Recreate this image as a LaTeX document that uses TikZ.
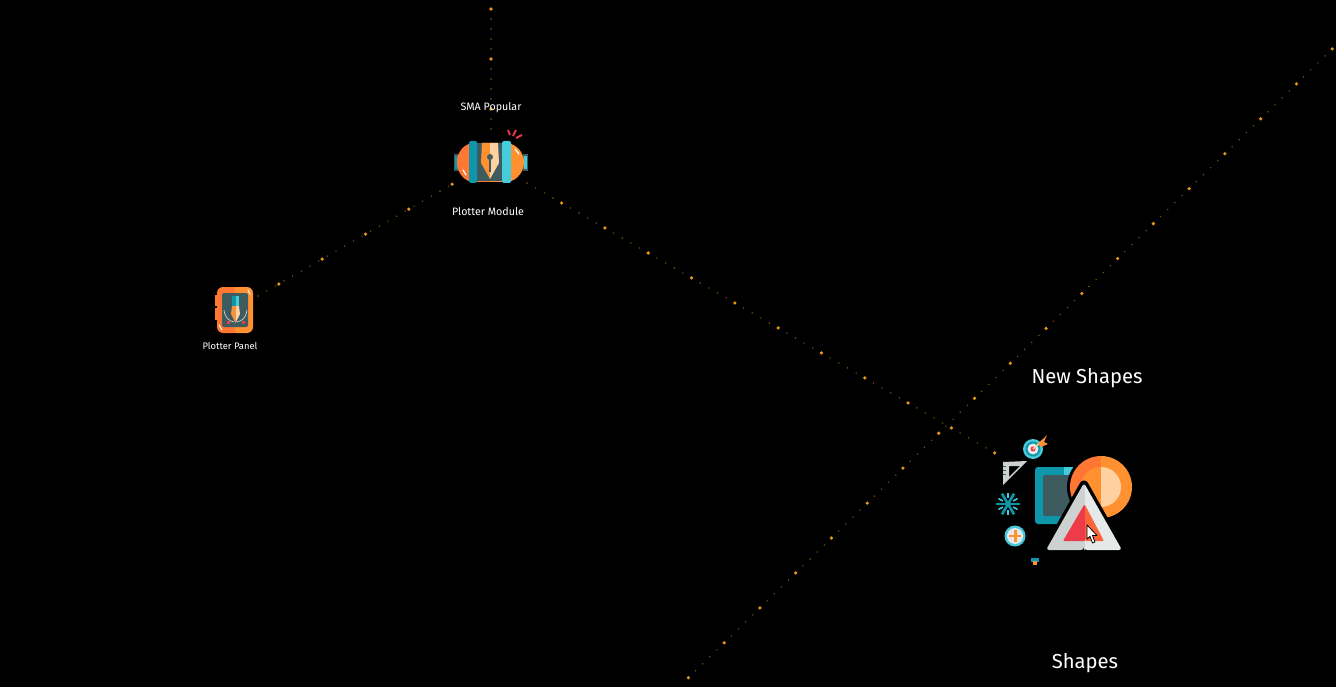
\documentclass[tikz,border=0pt]{standalone}
\usepackage{fontspec}
\setmainfont{Fira Sans}
\usetikzlibrary{calc}
\definecolor{linkgold}{HTML}{E89A0E}
\definecolor{linkdim}{HTML}{7F5508}
\definecolor{hotorange}{HTML}{FF7733}
\definecolor{warmorange}{HTML}{FF9130}
\definecolor{peach}{HTML}{FFD0A0}
\definecolor{deepteal}{HTML}{0E97AB}
\definecolor{lightteal}{HTML}{45CBD9}
\definecolor{slatepanel}{HTML}{3E5B60}
\definecolor{alertred}{HTML}{EE3B4A}
\definecolor{lightgrey}{HTML}{E6E9EA}
\definecolor{midgrey}{HTML}{CDD1D2}
\tikzset{
    smalllink/.style={draw=linkdim, line width=1.6pt, line cap=round, dash pattern=on 0pt off 10pt},
    biglink/.style={draw=linkgold, line width=3.6pt, line cap=round, dash pattern=on 0pt off 50pt, dash phase=#1},
    biglink/.default=0pt,
    smalllabel/.style={text=white, inner sep=0pt, font=\fontsize{10.7}{13}\selectfont},
    tinylabel/.style={text=white, inner sep=0pt, font=\fontsize{9.4}{11}\selectfont},
    largelabel/.style={text=white, inner sep=0pt, font=\fontsize{20.2}{24}\selectfont},
}
\begin{document}
\begin{tikzpicture}[x=1pt, y=-1pt]
            \fill[black] (0, 0) rectangle (1336, 687);
            \useasboundingbox (0, 0) rectangle (1336, 687);
            \coordinate (top) at (491, -41);
            \coordinate (popular) at (491, 130);
            \coordinate (panel link) at (258, 296);
            \coordinate (module west) at (456, 182);
            \coordinate (module east) at (527, 183);
            \coordinate (shapes west) at (1000, 456);
            \coordinate (far east) at (1368, 14);
            \coordinate (far south) at (683, 683);
            \path[smalllink] (top) -- (popular);
            \path[biglink] (top) -- (popular);
            \path[smalllink] (panel link) -- (module west);
            \path[biglink=26pt] (panel link) -- (module west);
            \path[smalllink] (module east) -- (shapes west);
            \path[biglink=10pt] (module east) -- (shapes west);
            \path[smalllink] (far east) -- (far south);
            \path[biglink] (far east) -- (far south);
            \node[smalllabel] (popular label) at (491, 108) {SMA Popular};
            \node[smalllabel] (module label) at (488, 212) {Plotter Module};
            \node[tinylabel] (panel label) at (230, 346) {Plotter Panel};
            \node[largelabel] (new label) at (1087, 378) {New Shapes};
            \node[largelabel] (shapes label) at (1085, 663) {Shapes};
            \fill[slatepanel] (454, 154) rectangle (459, 171);
            \fill[deepteal] (455, 156) rectangle (458, 169);
            \fill[slatepanel] (523, 154) rectangle (528, 171);
            \fill[lightteal] (524, 156) rectangle (527, 169);
            \fill[hotorange] (490, 143) -- (472, 143) .. controls (462, 145) and (457, 154) .. (457, 162) .. controls (457, 171) and (462, 180) .. (472, 182) -- (490, 182) -- cycle;
            \fill[warmorange] (490, 143) -- (508, 143) .. controls (518, 145) and (524, 154) .. (524, 162) .. controls (524, 171) and (518, 180) .. (508, 182) -- (490, 182) -- cycle;
            \draw[white, line width=1.2pt, line cap=round] (515, 149) -- (519, 154);
            \draw[white, line width=1.2pt, line cap=round] (463, 170) -- (466, 175);
            \fill[slatepanel] (476, 143) rectangle (503, 181);
            \fill[deepteal, rounded corners=1.5pt] (469, 141) rectangle (477, 183);
            \fill[lightteal, rounded corners=1.5pt] (502, 141) rectangle (511, 183);
            \fill[warmorange] (490, 143) -- (482, 143) -- (481, 163) -- (490, 179) -- cycle;
            \fill[peach] (490, 143) -- (498, 143) -- (499, 163) -- (490, 179) -- cycle;
            \fill[slatepanel] (490, 157) circle (3);
            \fill[slatepanel] (489.3, 157) rectangle (490.7, 172);
            \draw[alertred, line width=1.8pt] (508, 130) -- (510, 135);
            \draw[alertred, line width=1.8pt] (516, 130) -- (513, 136);
            \draw[alertred, line width=1.8pt] (522, 135) -- (516, 138);
            \fill[hotorange] (215, 295) rectangle (219, 306);
            \fill[hotorange] (215, 308) rectangle (219, 320);
            \fill[hotorange, rounded corners=6pt] (217, 287) rectangle (240, 333);
            \fill[warmorange, rounded corners=6pt] (230, 287) rectangle (253, 333);
            \fill[hotorange] (225, 287) rectangle (235, 333);
            \draw[white, line width=1pt, line cap=round] (248, 290) -- (250, 294);
            \draw[white, line width=1pt, line cap=round] (219, 325) -- (222, 330);
            \fill[slatepanel, rounded corners=2pt] (222, 293) rectangle (248, 327);
            \fill[deepteal] (232, 296) rectangle (235.5, 306);
            \fill[lightteal] (235.5, 296) rectangle (239, 306);
            \fill[warmorange] (232, 306) -- (235.5, 306) -- (235.5, 323) -- (231, 314) -- cycle;
            \fill[peach] (239, 306) -- (235.5, 306) -- (235.5, 323) -- (240, 314) -- cycle;
            \draw[midgrey, line width=0.7pt] (224, 310) .. controls (225, 318) and (229, 321) .. (234, 322);
            \draw[midgrey, line width=0.7pt] (247, 310) .. controls (246, 318) and (242, 321) .. (237, 322);
            \fill[alertred] (226.5, 320.5) rectangle (229.5, 323.5);
            \fill[alertred] (241.5, 320.5) rectangle (244.5, 323.5);
            \fill[lightteal] (1033, 449) circle (10);
            \fill[deepteal] (1033, 449) circle (7.5);
            \fill[lightgrey] (1033, 449) circle (5.5);
            \fill[alertred] (1033, 449) circle (2.5);
            \draw[peach, line width=1.5pt] (1033, 449) -- (1043, 440);
            \fill[warmorange] (1038, 444) -- (1047, 435) -- (1044, 442) -- (1048, 444) -- (1041, 447) -- cycle;
            \fill[midgrey, even odd rule] (1003, 462) -- (1027, 461) -- (1003, 485) -- cycle (1009, 466) -- (1009, 477) -- (1020, 466) -- cycle;
            \foreach \tick in {466, 470, 474} {
                \draw[slatepanel, line width=0.7pt] (1003, \tick) -- (1006, \tick);
            }
            \foreach \ang in {0, 60, 120} {
                \draw[deepteal, line width=2.6pt] ($(1008, 504)+(\ang:12)$) -- ($(1008, 504)+(\ang+180:12)$);
                \draw[lightteal, line width=1.6pt] ($(1008, 504)+(\ang+30:11)$) -- ($(1008, 504)+(\ang+30:6)$);
                \draw[lightteal, line width=1.6pt] ($(1008, 504)+(\ang+210:11)$) -- ($(1008, 504)+(\ang+210:6)$);
            }
            \fill[lightteal] (1015, 536) circle (10.5);
            \fill[lightgrey] (1015, 536) circle (8);
            \fill[warmorange] (1014, 530) rectangle (1016.5, 542);
            \fill[warmorange] (1009, 534.8) rectangle (1021, 537.2);
            \fill[deepteal] (1031, 558) rectangle (1039, 562);
            \fill[warmorange] (1033, 561) rectangle (1037, 565);
            \fill[deepteal, rounded corners=3pt] (1035, 467) rectangle (1080, 524);
            \fill[lightteal] (1064, 467) rectangle (1080, 475);
            \fill[slatepanel, rounded corners=2pt] (1043, 475) rectangle (1080, 516);
            \fill[black] (1101, 487) circle (34);
            \begin{scope}
                \clip (1065, 450) rectangle (1101, 525);
                \fill[hotorange] (1101, 487) circle (31);
                \fill[warmorange] (1101, 487) circle (20);
            \end{scope}
            \begin{scope}
                \clip (1101, 450) rectangle (1135, 525);
                \fill[warmorange] (1101, 487) circle (31);
                \fill[peach] (1101, 487) circle (20);
            \end{scope}
            \draw[black, line width=9pt, line join=round] (1084, 485) -- (1120, 549) -- (1048, 549) -- cycle;
            \fill[midgrey, rounded corners=3pt] (1084, 483) -- (1046, 550) -- (1084, 550) -- cycle;
            \fill[lightgrey, rounded corners=3pt] (1084, 483) -- (1122, 550) -- (1084, 550) -- cycle;
            \fill[midgrey] (1084, 486) rectangle (1084.4, 550);
            \fill[alertred, rounded corners=1pt] (1084, 505) -- (1063, 541) -- (1085, 541) -- (1085, 505) -- cycle;
            \fill[hotorange!70!alertred, rounded corners=1pt] (1085, 505) -- (1104, 541) -- (1085, 541) -- cycle;
            \draw[black, fill=white, line width=0.8pt, line join=round] (1087, 525) -- (1087, 539) -- (1090, 536.5) -- (1092.5, 543) -- (1095, 542) -- (1092.5, 535.5) -- (1097, 535.5) -- cycle;
        \end{tikzpicture}
\end{document}
